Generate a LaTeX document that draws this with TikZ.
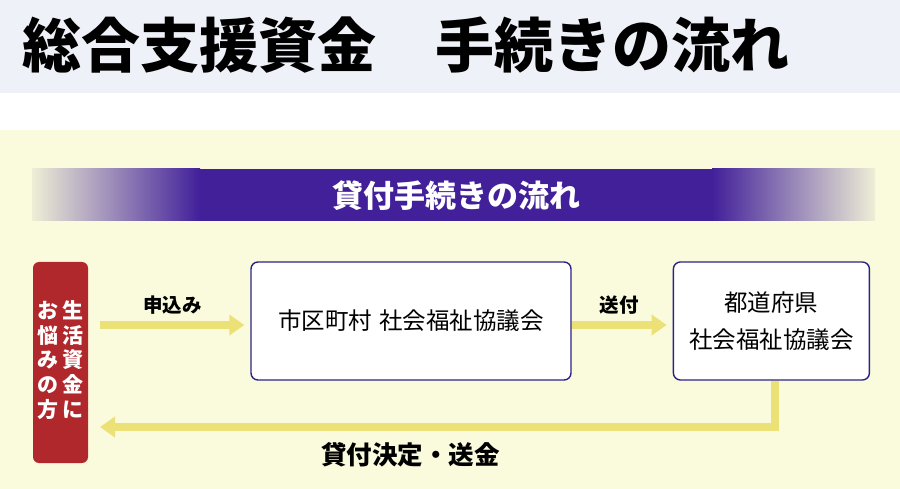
\documentclass[tikz,border=0pt]{standalone}
\usepackage{fontspec}
\setmainfont{Noto Sans CJK JP}
\usetikzlibrary{arrows.meta,positioning,calc}

\definecolor{headbg}{RGB}{238,242,248}
\definecolor{panelbg}{RGB}{250,250,220}
\definecolor{bandpurple}{RGB}{66,32,154}
\definecolor{boxline}{RGB}{46,34,136}
\definecolor{personred}{RGB}{176,40,44}
\definecolor{flowyellow}{RGB}{236,225,118}
\definecolor{fadegray}{RGB}{238,238,214}

\begin{document}
\begin{tikzpicture}[x=1pt, y=1pt, >={Triangle[length=15pt,width=20pt]}, node distance=101pt]
		\tikzstyle{office}=[draw=boxline, line width=1.4pt, fill=white, rounded corners=7pt, minimum height=118pt, align=center, font=\fontsize{23.5}{37}\selectfont]
		\tikzstyle{flow}=[->, draw=flowyellow, line width=8pt]
		\useasboundingbox (0,0) rectangle (900,-489);
		% backgrounds
		\fill[headbg] (0,0) rectangle (900,-93);
		\fill[white] (0,-93) rectangle (900,-130);
		\fill[panelbg] (0,-130) rectangle (900,-489);
		\node[anchor=west, font=\fontsize{59}{64}\selectfont\bfseries] (title) at (19,-45) {総合支援資金\hspace{1em}手続きの流れ};
		% banner
		\shade[left color=fadegray, right color=bandpurple] (32,-169) rectangle (200,-221);
		\fill[bandpurple] (200,-169) rectangle (712,-221);
		\shade[left color=bandpurple, right color=fadegray] (712,-169) rectangle (875,-221);
		\node[text=white, font=\fontsize{31}{34}\selectfont\bfseries] (band) at (456,-196) {貸付手続きの流れ};
		% flow
		\node[fill=personred, rounded corners=6pt, minimum width=55pt, minimum height=201pt, inner sep=0pt, text=white, font=\fontsize{21}{23}\selectfont\bfseries] (person) at (60.5,-362.5)
			{\begin{tabular}{@{}c@{\hspace{4pt}}c@{}}お&生\\悩&活\\み&資\\の&金\\方&に\end{tabular}};
		\node[office, minimum width=320pt] (city) at (411,-321) {市区町村\hspace{0.3em}社会福祉協議会};
		\node[office, minimum width=196pt] (pref) [right=of city] {都道府県\\社会福祉協議会};
		\coordinate (back) at (100,-427);
		\path[every node/.style={font=\fontsize{19.5}{22}\selectfont\bfseries, inner sep=2pt}]
		($(person.east |- city.west)+(12,-4)$) edge[flow] node[above=5pt]{申込み} ($(city.west)+(-6,-4)$)
		($(city.east)+(0,-4)$) edge[flow] node[above=5pt]{送付} ($(pref.west)+(-6,-4)$);
		\draw[flow] ($(pref.south)+(4,0)$) |- node[pos=0.77, below=8pt, text=black, font=\fontsize{25.5}{28}\selectfont\bfseries]{貸付決定・送金} (back);
	\end{tikzpicture}
\end{document}
